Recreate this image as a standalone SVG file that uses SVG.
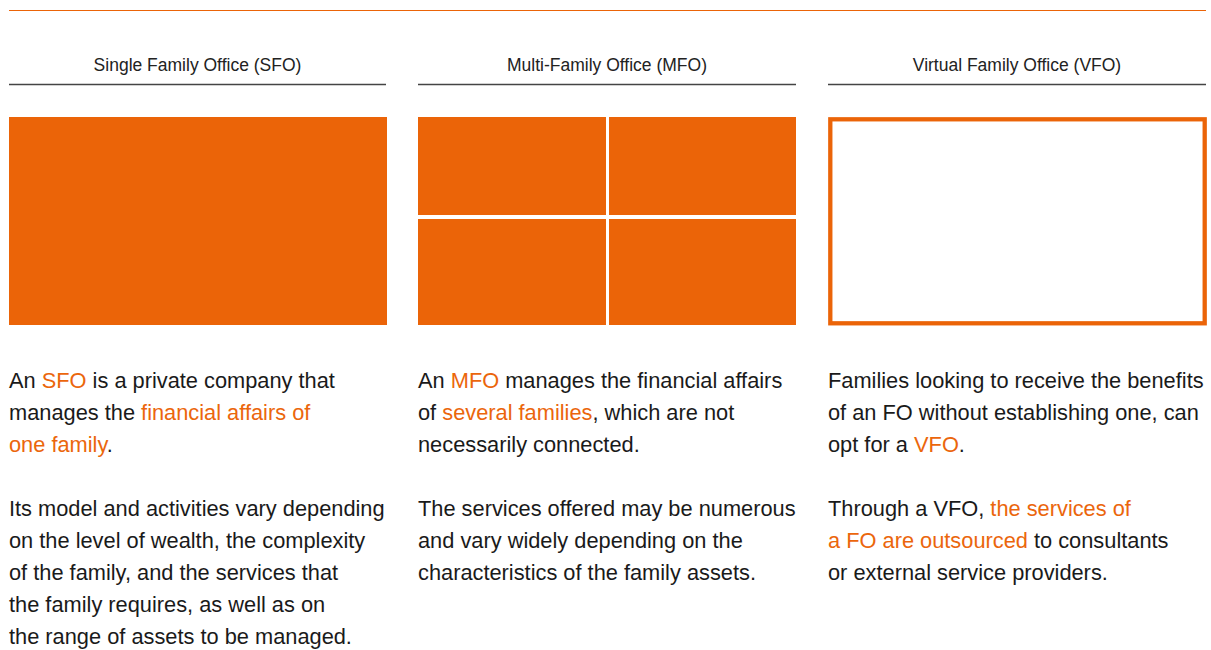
<svg xmlns="http://www.w3.org/2000/svg" width="1211" height="650" viewBox="0 0 1211 650">
<style>
.hd{font-family:"Liberation Sans",Arial,sans-serif;font-size:17.5px;fill:#222;text-anchor:middle}
.tx{font-family:"Liberation Sans",Arial,sans-serif;font-size:21.8px;fill:#1a1a1a}
.or{fill:#EB660C}
.rule{stroke:#444;stroke-width:1.5}
.blk{fill:#EB6408}
</style>
<rect width="1211" height="650" fill="#fff"/>
<line x1="9" y1="10.5" x2="1206" y2="10.5" stroke="#EB6408" stroke-width="1"/>
<g id="sfo">
<text class="hd" x="197.5" y="71">Single Family Office (SFO)</text>
<line class="rule" x1="9" y1="84.5" x2="386" y2="84.5"/>
<rect class="blk" x="9" y="117" width="378" height="208"/>
<text class="tx"><tspan x="9" y="388">An <tspan class="or">SFO</tspan> is a private company that</tspan><tspan x="9" y="420">manages the <tspan class="or">financial affairs of</tspan></tspan><tspan x="9" y="452"><tspan class="or">one family</tspan>.</tspan><tspan x="9" y="516">Its model and activities vary depending</tspan><tspan x="9" y="548">on the level of wealth, the complexity</tspan><tspan x="9" y="580">of the family, and the services that</tspan><tspan x="9" y="612">the family requires, as well as on</tspan><tspan x="9" y="644">the range of assets to be managed.</tspan></text>
</g>
<g id="mfo">
<text class="hd" x="607" y="71">Multi-Family Office (MFO)</text>
<line class="rule" x1="418" y1="84.5" x2="796" y2="84.5"/>
<rect class="blk" x="418" y="117" width="188" height="98"/>
<rect class="blk" x="609" y="117" width="187" height="98"/>
<rect class="blk" x="418" y="219" width="188" height="106"/>
<rect class="blk" x="609" y="219" width="187" height="106"/>
<text class="tx"><tspan x="418" y="388">An <tspan class="or">MFO</tspan> manages the financial affairs</tspan><tspan x="418" y="420">of <tspan class="or">several families</tspan>, which are not</tspan><tspan x="418" y="452">necessarily connected.</tspan><tspan x="418" y="516">The services offered may be numerous</tspan><tspan x="418" y="548">and vary widely depending on the</tspan><tspan x="418" y="580">characteristics of the family assets.</tspan></text>
</g>
<g id="vfo">
<text class="hd" x="1017" y="71">Virtual Family Office (VFO)</text>
<line class="rule" x1="828" y1="84.5" x2="1206" y2="84.5"/>
<rect x="830.3" y="119.3" width="374.4" height="204" fill="#fff" stroke="#EB6408" stroke-width="4.3"/>
<text class="tx"><tspan x="828" y="388">Families looking to receive the benefits</tspan><tspan x="828" y="420">of an FO without establishing one, can</tspan><tspan x="828" y="452">opt for a <tspan class="or">VFO</tspan>.</tspan><tspan x="828" y="516">Through a VFO, <tspan class="or">the services of</tspan></tspan><tspan x="828" y="548"><tspan class="or">a FO are outsourced</tspan> to consultants</tspan><tspan x="828" y="580">or external service providers.</tspan></text>
</g>
</svg>
